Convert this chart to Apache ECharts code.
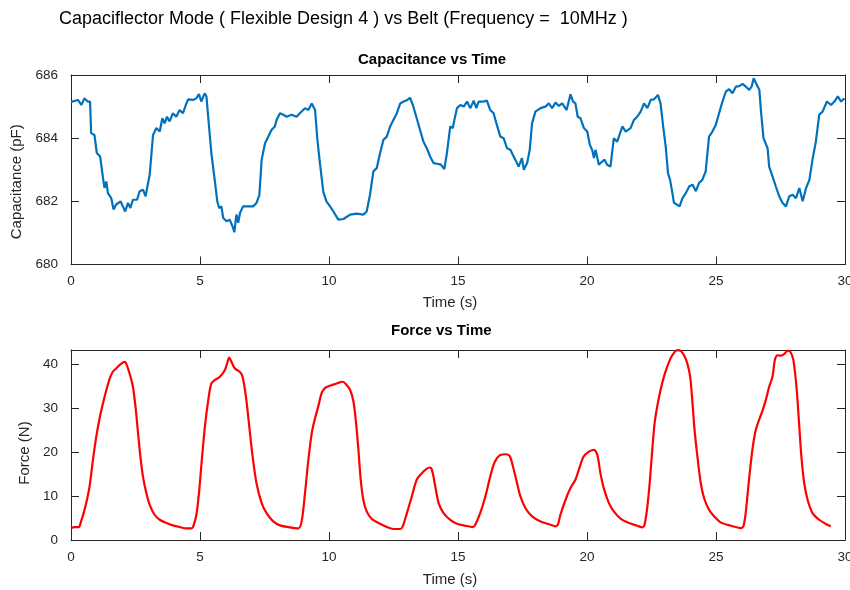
<!DOCTYPE html>
<html>
<head>
<meta charset="utf-8">
<script src="https://cdn.jsdelivr.net/npm/echarts@6/dist/echarts.min.js"></script>
<style>html,body{margin:0;padding:0;background:#fff}#c{width:850px;height:590px}</style>
</head>
<body>
<div id="c"></div>
<script>
const capTime = [0.0,0.07,0.27,0.4,0.52,0.65,0.74,0.78,0.91,1.0,1.13,1.24,1.30,1.37,1.43,1.56,1.65,1.75,1.92,2.01,2.10,2.21,2.30,2.40,2.56,2.66,2.79,2.89,2.95,3.05,3.18,3.31,3.44,3.54,3.63,3.72,3.82,3.95,4.08,4.21,4.34,4.45,4.54,4.73,4.86,4.96,5.05,5.18,5.25,5.35,5.44,5.57,5.67,5.74,5.83,5.90,6.03,6.15,6.26,6.33,6.41,6.48,6.55,6.67,6.74,6.87,7.06,7.19,7.30,7.39,7.52,7.65,7.77,7.9,7.97,8.1,8.23,8.36,8.55,8.74,8.87,9.07,9.2,9.33,9.46,9.55,9.65,9.78,9.90,10.04,10.17,10.36,10.56,10.82,11.07,11.33,11.46,11.59,11.72,11.85,11.98,12.11,12.24,12.37,12.5,12.63,12.76,12.89,13.04,13.14,13.25,13.40,13.53,13.66,13.79,13.92,14.05,14.18,14.34,14.47,14.57,14.70,14.80,14.86,14.96,15.09,15.22,15.35,15.48,15.61,15.71,15.80,16.0,16.12,16.25,16.38,16.45,16.64,16.77,16.9,17.03,17.13,17.22,17.35,17.48,17.55,17.68,17.78,17.87,18.0,18.2,18.39,18.52,18.65,18.78,18.91,19.04,19.21,19.36,19.46,19.55,19.64,19.75,19.88,20.01,20.11,20.2,20.27,20.33,20.46,20.59,20.68,20.78,20.91,21.04,21.17,21.37,21.5,21.69,21.82,21.95,22.08,22.21,22.34,22.47,22.6,22.75,22.85,22.96,23.05,23.14,23.22,23.31,23.37,23.5,23.59,23.7,23.83,23.96,24.09,24.22,24.34,24.47,24.6,24.73,24.86,24.99,25.12,25.25,25.38,25.51,25.64,25.77,25.9,26.03,26.16,26.29,26.38,26.46,26.55,26.68,26.74,26.84,27.0,27.06,27.19,27.32,27.45,27.58,27.71,27.84,27.97,28.1,28.23,28.36,28.49,28.62,28.74,28.87,29.0,29.13,29.3,29.46,29.59,29.72,29.85,29.98];
const capValue = [685.15,685.16,685.21,685.05,685.26,685.16,685.16,684.16,684.1,683.53,683.42,682.74,682.42,682.63,682.26,682.1,681.74,681.9,682.0,681.84,681.68,681.95,681.79,682.05,682.05,682.32,682.37,682.16,682.42,682.84,684.1,684.32,684.21,684.63,684.47,684.68,684.53,684.79,684.68,684.89,684.79,685.05,685.23,685.21,685.26,685.4,685.16,685.42,685.32,684.37,683.53,682.68,682.0,681.79,681.84,681.47,681.37,681.42,681.21,681.02,681.58,681.32,681.63,681.84,681.9,681.84,681.84,681.95,682.2,683.32,683.84,684.05,684.26,684.37,684.58,684.79,684.74,684.68,684.74,684.68,684.79,684.95,684.89,685.1,684.89,683.95,683.2,682.3,682.0,681.84,681.68,681.42,681.44,681.58,681.61,681.58,681.68,682.21,682.95,683.05,683.53,683.95,684.05,684.37,684.58,684.79,685.1,685.16,685.21,685.28,685.05,684.63,684.26,683.89,683.68,683.42,683.21,683.19,683.16,683.02,683.53,684.37,684.32,684.58,684.95,685.05,685.0,685.16,684.95,685.19,684.95,685.16,685.16,685.19,684.89,684.79,684.58,684.05,684.0,683.68,683.63,683.47,683.32,683.1,683.37,683.0,683.21,683.63,684.47,684.84,684.95,685.0,685.1,684.95,685.13,685.02,685.1,684.89,685.39,685.16,685.1,684.68,684.63,684.32,684.21,683.79,683.63,683.37,683.63,683.16,683.26,683.32,683.16,683.1,684.0,683.89,684.37,684.21,684.32,684.58,684.68,684.84,685.1,684.95,685.21,685.23,685.37,685.1,684.32,683.74,682.89,682.68,682.26,681.95,681.89,681.84,682.1,682.26,682.47,682.53,682.32,682.58,682.68,682.95,684.05,684.21,684.42,684.79,685.16,685.47,685.55,685.42,685.63,685.65,685.72,685.63,685.53,685.63,685.9,685.74,685.53,684.89,684.0,683.68,683.1,682.79,682.47,682.16,681.95,681.84,682.16,682.21,682.1,682.42,682.0,682.42,682.68,683.32,683.89,684.74,684.84,685.16,685.05,685.16,685.32,685.16,685.26];
const forceTime = [0,0.14,0.3,0.39,0.49,0.59,0.72,0.85,0.98,1.11,1.24,1.37,1.5,1.62,1.75,1.88,2.01,2.08,2.14,2.27,2.4,2.5,2.6,2.69,2.79,2.92,3.05,3.24,3.44,3.7,3.95,4.21,4.47,4.67,4.76,4.86,4.96,5.06,5.19,5.32,5.44,5.57,5.77,5.96,6.05,6.13,6.22,6.35,6.54,6.65,6.78,6.91,7.04,7.19,7.39,7.58,7.84,8.1,8.49,8.81,8.94,9.07,9.2,9.33,9.46,9.59,9.72,9.85,10.0,10.1,10.3,10.53,10.69,10.82,10.95,11.05,11.14,11.23,11.33,11.46,11.66,11.92,12.24,12.5,12.76,12.86,13.02,13.21,13.4,13.6,13.77,13.9,13.99,14.12,14.25,14.44,14.7,14.96,15.28,15.58,15.67,15.86,16.06,16.25,16.38,16.51,16.64,16.84,17.0,17.13,17.29,17.42,17.61,17.87,18.2,18.58,18.78,18.87,18.97,19.17,19.36,19.55,19.68,19.87,20.07,20.2,20.27,20.4,20.52,20.65,20.85,21.04,21.3,21.63,21.95,22.14,22.23,22.34,22.44,22.53,22.62,22.72,22.85,22.98,23.11,23.24,23.37,23.5,23.63,23.76,23.89,24.0,24.08,24.17,24.28,24.41,24.54,24.73,24.93,25.18,25.57,25.96,26.06,26.15,26.28,26.41,26.54,26.67,26.81,26.93,27.06,27.19,27.28,27.38,27.51,27.64,27.77,27.88,28.0,28.13,28.22,28.31,28.42,28.55,28.74,29.0,29.26,29.45];
const forceValue = [2.72,2.95,2.95,4.23,6.12,8.39,12.17,18.2,23.5,27.7,31.07,34.1,36.7,38.25,39.0,39.76,40.36,40.5,40.1,37.87,34.85,30.3,24.26,18.97,14.4,10.66,8.0,5.74,4.6,3.85,3.33,2.95,2.65,2.65,3.48,5.74,10.66,17.46,25.77,31.8,35.6,36.36,37.1,38.6,40.1,41.5,40.5,39.0,38.25,37.1,32.58,25.77,18.97,12.9,8.39,6.12,4.23,3.33,2.87,2.65,4.23,10.66,18.2,24.26,27.7,30.5,33.5,34.6,35.0,35.2,35.6,35.98,35.2,34.1,31.44,26.5,20.5,13.7,9.15,6.5,4.76,3.85,2.95,2.5,2.5,3.1,6.12,9.9,13.7,15.2,16.1,16.48,15.95,12.17,8.39,6.12,4.6,3.7,3.25,2.95,3.48,6.12,9.9,14.44,17.08,18.59,19.35,19.5,19.12,16.7,12.9,9.9,7.26,5.37,4.23,3.48,3.1,3.48,5.74,9.15,11.8,13.7,15.95,18.97,20.1,20.4,20.5,19.35,15.2,11.8,8.39,6.5,4.84,3.85,3.25,2.87,3.48,7.63,13.7,20.5,26.5,30.3,34.1,37.1,39.4,41.3,42.55,43.16,43.0,42.0,40.1,37.1,31.8,25.0,18.97,12.9,9.5,6.88,5.37,4.0,3.25,2.72,3.1,6.12,13.7,20.5,25.0,27.3,29.55,31.8,34.85,37.1,40.9,42.0,41.9,42.25,43.0,42.8,40.9,34.1,26.5,18.97,12.9,9.15,6.12,4.6,3.63,3.1];

const mainTitle = 'Capaciflector Mode ( Flexible Design 4 ) vs Belt (Frequency =  10MHz )';
const capTitle = 'Capacitance vs Time';
const forceTitle = 'Force vs Time';
const xName = 'Time (s)';
const capYName = 'Capacitance (pF)';
const forceYName = 'Force (N)';

const FONT = 'Liberation Sans, Arial, Helvetica, sans-serif';
const AX = '#262626';

function xAxes(gridIndex, gap) {
  const base = {
    gridIndex, type: 'value', min: 0, max: 30, interval: 5,
    axisLine: { show: true, onZero: false, lineStyle: { color: AX, width: 1 } },
    axisTick: { show: true, inside: true, length: 8, lineStyle: { color: AX } },
    splitLine: { show: false }
  };
  return [
    Object.assign({}, base, {
      position: 'bottom',
      axisLabel: { color: AX, fontSize: 13.5, fontFamily: FONT, margin: 10 },
      name: xName, nameLocation: 'middle', nameGap: gap,
      nameTextStyle: { color: AX, fontSize: 15, fontFamily: FONT, padding: [0, 16, 0, 0] }
    }),
    Object.assign({}, base, { position: 'top', axisLabel: { show: false } })
  ];
}
function yAxes(gridIndex, min, max, interval, name, gap, showMax, shiftDown) {
  const base = {
    gridIndex, type: 'value', min, max, interval,
    axisLine: { show: true, onZero: false, lineStyle: { color: AX, width: 1 } },
    axisTick: { show: true, inside: true, length: 8, lineStyle: { color: AX } },
    splitLine: { show: false }
  };
  return [
    Object.assign({}, base, {
      position: 'left',
      axisLabel: { color: AX, fontSize: 13.5, fontFamily: FONT, margin: 13, showMaxLabel: showMax },
      name, nameLocation: 'middle', nameGap: gap,
      nameTextStyle: { color: AX, fontSize: 15, fontFamily: FONT, padding: [0, shiftDown * 2, 0, 0] }
    }),
    Object.assign({}, base, { position: 'right', axisLabel: { show: false } })
  ];
}

const chart = echarts.init(document.getElementById('c'), null, { renderer: 'canvas' });
chart.setOption({
  animation: false,
  backgroundColor: '#fff',
  title: [
    { text: mainTitle, left: 59, top: 10, padding: 0, textStyle: { color: '#000', fontSize: 18, fontWeight: 'normal', fontFamily: FONT } },
    { text: capTitle, left: 358, top: 52, padding: 0, textStyle: { color: '#000', fontSize: 15, fontWeight: 'bold', fontFamily: FONT } },
    { text: forceTitle, left: 391, top: 323, padding: 0, textStyle: { color: '#000', fontSize: 15, fontWeight: 'bold', fontFamily: FONT } }
  ],
  grid: [
    { left: 71, top: 75, width: 774, height: 189.5, outerBoundsMode: 'none', containLabel: false },
    { left: 71, top: 350, width: 774, height: 190, outerBoundsMode: 'none', containLabel: false }
  ],
  xAxis: [...xAxes(0, 31), ...xAxes(1, 32)],
  yAxis: [...yAxes(0, 680, 686, 2, capYName, 45, true, 12), ...yAxes(1, 0, 43.2, 10, forceYName, 38, false, 8)],
  series: [
    {
      type: 'line', xAxisIndex: 0, yAxisIndex: 0, symbol: 'none',
      data: capTime.map((t, i) => [t, capValue[i]]),
      lineStyle: { color: '#0072BD', width: 2.2 }
    },
    {
      type: 'line', xAxisIndex: 2, yAxisIndex: 2, symbol: 'none', smooth: 0.3,
      data: forceTime.map((t, i) => [t, forceValue[i]]),
      lineStyle: { color: '#FF0000', width: 2.2 }
    }
  ]
});
</script>
</body>
</html>
